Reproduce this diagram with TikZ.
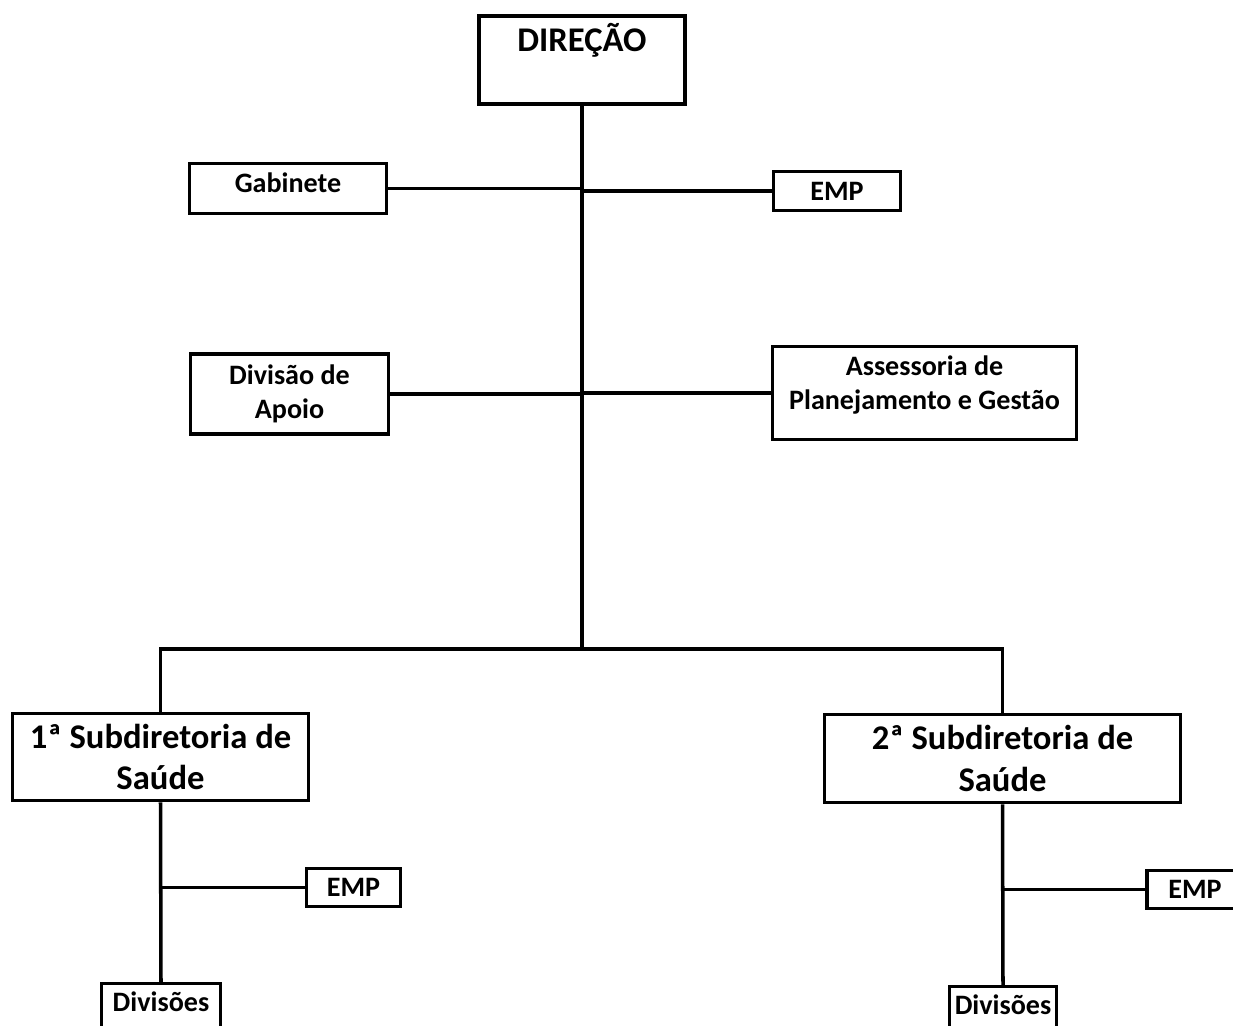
\documentclass[tikz,border=0pt]{standalone}
\usepackage{fontspec}
\setmainfont{Carlito}
\usetikzlibrary{positioning}
\tikzset{
  box/.style={draw, line width=2pt, inner sep=0pt, align=center, font=\bfseries\fontsize{16pt}{19.3pt}\selectfont},
  bigbox/.style={box, font=\bfseries\fontsize{19.7pt}{23.8pt}\selectfont},
  link/.style={line width=2pt}
}
\begin{document}
\begin{tikzpicture}[x=0.02cm, y=-0.02cm]
        \useasboundingbox (0,0) rectangle (1233,1025);
        % Boxes
        \node[bigbox, anchor=base, minimum width=4.12cm, text height=0.7cm, text depth=1.06cm] (dir) at (582,51) {DIREÇÃO};
        \node[box, minimum width=3.94cm, minimum height=1.0cm, text depth=0.24cm] (gab) at (288,188.5) {Gabinete};
        \node[box, minimum width=2.54cm, minimum height=0.78cm] (emp1) at (837,191) {EMP};
        \node[box, minimum width=3.96cm, minimum height=1.6cm] (apoio) at (289.5,394) {Divisão de\\Apoio};
        \node[box, minimum width=6.08cm, minimum height=1.86cm, text depth=0.43cm] (plan) at (924.5,393) {Assessoria de\\Planejamento e Gestão};
        \node[bigbox, minimum width=5.92cm, minimum height=1.74cm] (sub1) at (160.5,757) {1ª Subdiretoria de\\Saúde};
        \node[bigbox, minimum width=7.12cm, minimum height=1.76cm] (sub2) at (1002.5,758.5) {2ª Subdiretoria de\\Saúde};
        \node[box, minimum width=1.88cm, minimum height=0.76cm] (emp2) at (353.5,887.5) {EMP};
        \node[box, minimum width=1.92cm, minimum height=0.76cm] (emp3) at (1195,889.5) {EMP};
        \node[box, anchor=base, minimum width=2.38cm, text height=0.56cm, text depth=0.9cm] (div1) at (161,1011.5) {Divisões};
        \node[box, anchor=base, minimum width=2.14cm, text height=0.56cm, text depth=0.9cm] (div2) at (1003,1014.5) {Divisões};
        % Lines
        \coordinate (bus) at (582,649);
        \draw[link] (dir.south) -- (bus);
        \draw[link] (gab.east) -- (gab.east -| bus);
        \draw[link] (emp1.west) -- (emp1.west -| bus);
        \draw[link] (apoio.east) -- (apoio.east -| bus);
        \draw[line width=2.5pt] (plan.west) -- (plan.west -| bus);
        \draw[link] (sub1.north) |- (bus);
        \draw[link] (sub2.north) |- (bus);
        \draw[link] (sub1.south) -- (div1.north);
        \draw[link] (emp2.west) -- (emp2.west -| sub1.south);
        \draw[link] (sub2.south) -- (div2.north);
        \draw[link] (emp3.west) -- (emp3.west -| sub2.south);
\end{tikzpicture}
\end{document}
